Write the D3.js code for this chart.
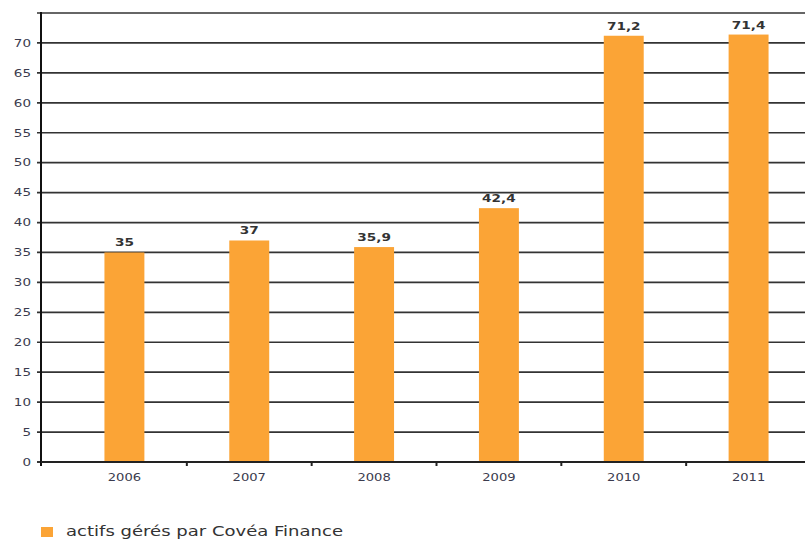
<!DOCTYPE html>
<html>
<head>
<meta charset="utf-8">
<script src="https://cdn.jsdelivr.net/npm/d3@7"></script>
<style>
  html, body { margin: 0; padding: 0; background: #fff; }
  svg { display: block; }
  text { font-family: "DejaVu Sans", Verdana, sans-serif; }
</style>
</head>
<body>
<svg id="chart" width="805" height="539"></svg>
<script>
// Actifs gérés par Covéa Finance (Mds €)
const years = ["2006", "2007", "2008", "2009", "2010", "2011"];
const actifs = [35, 37, 35.9, 42.4, 71.2, 71.4];
const valueLabels = ["35", "37", "35,9", "42,4", "71,2", "71,4"];
const yTicks = [0, 5, 10, 15, 20, 25, 30, 35, 40, 45, 50, 55, 60, 65, 70];
const yMax = 75;
const legendLabel = "actifs gérés par Covéa Finance";

const svg = d3.select("#chart");
const W = 805;
const axisX = 41, baseY = 462, topY = 13;

const x = d3.scaleBand().domain(years).range([62, 811]).paddingInner(0.68).paddingOuter(0.34);
const y = d3.scaleLinear().domain([0, yMax]).range([baseY, topY]);

const barColor = "#FBA436";

// horizontal gridlines (including the top border line)
svg.append("g").selectAll("line")
  .data(yTicks.concat([yMax]).filter(d => d > 0))
  .join("line")
  .attr("x1", axisX - 4).attr("x2", W)
  .attr("y1", d => y(d)).attr("y2", d => y(d))
  .attr("stroke", "#333").attr("stroke-width", 1.7);

// bars
svg.append("g").selectAll("rect")
  .data(years)
  .join("rect")
  .attr("x", d => x(d))
  .attr("width", x.bandwidth())
  .attr("y", (d, i) => y(actifs[i]))
  .attr("height", (d, i) => y(0) - y(actifs[i]))
  .attr("fill", barColor);

// y axis line and the tick at zero
svg.append("line")
  .attr("x1", axisX).attr("x2", axisX)
  .attr("y1", y(yMax) - 1).attr("y2", baseY + 4)
  .attr("stroke", "#111").attr("stroke-width", 2);
svg.append("line")
  .attr("x1", axisX - 4).attr("x2", axisX)
  .attr("y1", y(0)).attr("y2", y(0))
  .attr("stroke", "#111").attr("stroke-width", 1.7);

// x axis line
svg.append("line")
  .attr("x1", axisX).attr("x2", W)
  .attr("y1", baseY).attr("y2", baseY)
  .attr("stroke", "#222").attr("stroke-width", 2);

// x tick marks at category boundaries
const gap = x.step() - x.bandwidth();
svg.append("g").selectAll("line")
  .data(years.slice(1))
  .join("line")
  .attr("x1", d => x(d) - gap / 2).attr("x2", d => x(d) - gap / 2)
  .attr("y1", baseY).attr("y2", baseY + 4)
  .attr("stroke", "#222").attr("stroke-width", 2);

// y tick labels
svg.append("g").selectAll("text")
  .data(yTicks)
  .join("text")
  .attr("transform", d => `translate(31,${y(d) + 3.8}) scale(1.35,1)`)
  .attr("text-anchor", "end")
  .attr("font-size", 10)
  .attr("fill", "#3b3b4e")
  .text(d => d);

// x category labels
svg.append("g").selectAll("text")
  .data(years)
  .join("text")
  .attr("transform", d => `translate(${x(d) + x.bandwidth() / 2},481) scale(1.25,1)`)
  .attr("text-anchor", "middle")
  .attr("font-size", 10.5)
  .attr("fill", "#3b3b4e")
  .text(d => d);

// value labels
svg.append("g").selectAll("text")
  .data(years)
  .join("text")
  .attr("transform", (d, i) => `translate(${x(d) + x.bandwidth() / 2},${y(actifs[i]) - 6}) scale(1.3,1)`)
  .attr("text-anchor", "middle")
  .attr("font-size", 10.5)
  .attr("font-weight", "bold")
  .attr("fill", "#333")
  .text((d, i) => valueLabels[i]);

// legend
const legend = svg.append("g");
legend.append("rect")
  .attr("x", 41).attr("y", 527).attr("width", 12).attr("height", 10)
  .attr("fill", barColor);
legend.append("text")
  .attr("x", 66).attr("y", 535.5)
  .attr("font-size", 14)
  .attr("fill", "#333")
  .attr("textLength", 277)
  .attr("lengthAdjust", "spacingAndGlyphs")
  .text(legendLabel);
</script>
</body>
</html>
